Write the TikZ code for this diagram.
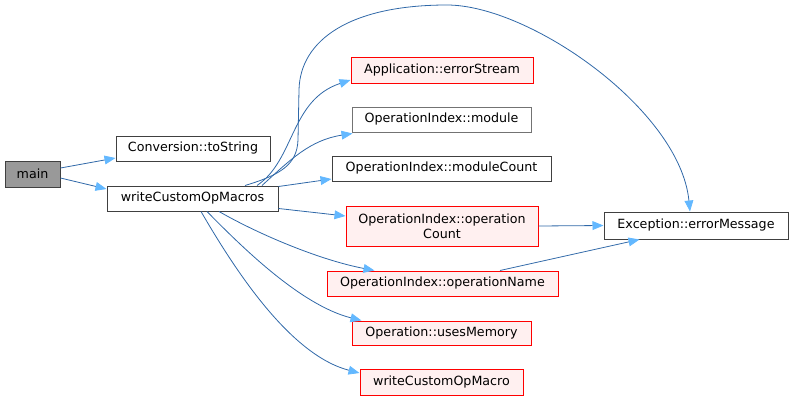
\documentclass[tikz,border=0pt]{standalone}
\usepackage{fontspec}
\setmainfont{DejaVu Sans}
\usetikzlibrary{arrows.meta,calc}
\definecolor{edgec}{HTML}{2F68A8}
\definecolor{arrowc}{HTML}{63B8FF}
\definecolor{redfill}{HTML}{FFF0F0}
\definecolor{mainfill}{HTML}{999999}
\begin{document}
\begin{tikzpicture}[x=0.75pt,y=-0.75pt,
  box/.style={draw=black!75,fill=white,line width=0.75pt,inner sep=0pt,font=\fontsize{9.5pt}{11.2pt}\selectfont,align=center},
  redbox/.style={box,draw=red,fill=redfill},
  greybox/.style={box,draw=black!55},
  mainbox/.style={box,fill=mainfill},
  edge/.style={draw=edgec,line width=0.6pt,-{Triangle[length=8.25pt,width=6.6pt,color=arrowc]}}]
\useasboundingbox (0,0) rectangle (793,400);
% nodes
\node[mainbox,minimum width=41.25pt,minimum height=19.5pt] (main) at (32.5,174) {main};
\node[box,minimum width=115.5pt,minimum height=18.75pt] (tostr) at (193,148.5) {Conversion::toString};
\node[box,minimum width=128.25pt,minimum height=18.75pt] (wcom) at (192.5,198.5) {writeCustomOpMacros};
\node[redbox,minimum width=136.5pt,minimum height=19.5pt] (errstream) at (442,70) {Application::errorStream};
\node[greybox,minimum width=134.25pt,minimum height=18.75pt] (module) at (441.5,119.5) {OperationIndex::module};
\node[box,minimum width=164.25pt,minimum height=18.75pt] (modcount) at (441.5,168.5) {OperationIndex::moduleCount};
\node[redbox,minimum width=144pt,minimum height=30pt] (opcount) at (442,226) {OperationIndex::operation\\Count};
\node[redbox,minimum width=173.25pt,minimum height=18.75pt] (opname) at (442.5,283.5) {OperationIndex::operationName};
\node[redbox,minimum width=134.25pt,minimum height=18pt] (usesmem) at (441.5,333) {Operation::usesMemory};
\node[redbox,minimum width=122.25pt,minimum height=19.5pt] (wcom1) at (441.5,382) {writeCustomOpMacro};
\node[box,minimum width=138pt,minimum height=20.25pt] (errmsg) at (696,225.5) {Exception::errorMessage};
% edges
\draw[edge] ($(main.east)+(0,-6)$) -- ($(tostr.west)+(0,9.5)$);
\draw[edge] ($(main.east)+(0,4)$) -- ($(wcom.west)+(0,-9.5)$);
\draw[edge] ($(wcom.north)+(52.5,0)$) .. controls (280,175) and (297,165) .. (298,140)
  -- (299,90) .. controls (300,40) and (350,5) .. (447,5)
  .. controls (530,5) and (680,110) .. ($(errmsg.north)+(-6,0)$);
\draw[edge] ($(wcom.north)+(64.5,0)$) .. controls (295,160) and (290,100) .. ($(errstream.west)+(0,10)$);
\draw[edge] ($(wcom.north)+(69.5,0)$) .. controls (290,160) and (310,140) .. ($(module.south west)+(1,1)$);
\draw[edge] ($(wcom.north east)+(0,1)$) -- ($(modcount.west)+(0,10.5)$);
\draw[edge] ($(wcom.south east)+(0,-3)$) -- ($(opcount.west)+(0,-10)$);
\draw[edge] ($(wcom.south)+(26.5,0)$) .. controls (260,235) and (320,260) .. ($(opname.north west)+(48,0)$);
\draw[edge] ($(wcom.south)+(14.5,0)$) .. controls (240,245) and (300,305) .. ($(usesmem.north west)+(10,0)$);
\draw[edge] ($(wcom.south)+(8.5,0)$) .. controls (235,270) and (290,355) .. ($(wcom1.west)+(0,-9)$);
\draw[edge] (opcount.east) -- (errmsg.west);
\draw[edge] ($(opname.north)+(57.5,0)$) -- ($(errmsg.south west)+(36,0)$);
\end{tikzpicture}
\end{document}
